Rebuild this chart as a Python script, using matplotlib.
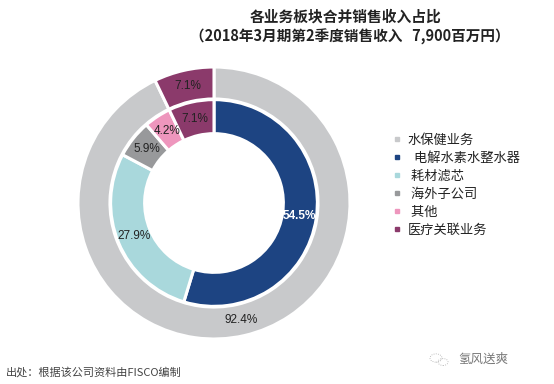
import matplotlib
matplotlib.use('Agg')
import numpy as np
import matplotlib.pyplot as plt
from matplotlib.lines import Line2D
from matplotlib.patches import Circle

plt.rcParams['font.family'] = ['Noto Sans CJK SC', 'DejaVu Sans']

outer_values = [92.4, 7.1]
outer_colors = ['#c8c9cb', '#8b3a6b']
inner_values = [54.5, 27.9, 5.9, 4.2, 7.1]
inner_colors = ['#1d4482', '#a9d8dc', '#98999b', '#ee96bd', '#8b3a6b']
legend_labels = ['水保健业务', '  电解水素水整水器', ' 耗材滤芯', ' 海外子公司', ' 其他', '医疗关联业务']
legend_colors = ['#c8c9cb', '#1d4482', '#a9d8dc', '#98999b', '#ee96bd', '#8b3a6b']

W, H = 554, 384
fig = plt.figure(figsize=(W / 100, H / 100), dpi=100)

# axes sized so that radius 1 is the outer edge of the big ring
cx, cy, r = 214, 203, 136
ax = fig.add_axes([(cx - r) / W, 1 - (cy + r) / H, 2 * r / W, 2 * r / H])

def ring(values, colors, radius, width):
    wedges, _ = ax.pie(values, colors=colors, radius=radius, startangle=90, counterclock=False,
                       wedgeprops=dict(width=width, edgecolor='white', linewidth=2.2), frame=False)
    for w, v in zip(wedges, values):
        a = np.deg2rad((w.theta1 + w.theta2) / 2)
        d = radius - width / 2
        # the label on the dark blue slice is white
        dark = w.get_facecolor()[2] > 0.45 and w.get_facecolor()[0] < 0.2
        ax.text(d * np.cos(a), d * np.sin(a), f'{v}%', ha='center', va='center', fontsize=8.5,
                color='white' if dark else '#222222', fontweight='bold' if dark else 'normal',
                family='Liberation Sans')

ring(outer_values, outer_colors, 1.0, 0.235)
ring(inner_values, inner_colors, 0.76, 0.25)
ax.set_xlim(-1, 1)
ax.set_ylim(-1, 1)

fig.text(346 / W, 1 - 17 / H, '各业务板块合并销售收入占比', ha='center', va='center',
         fontsize=10.6, fontweight='bold', color='#222222')
fig.text(350 / W, 1 - 37 / H, '（2018年3月期第2季度销售收入   7,900百万円）', ha='center', va='center',
         fontsize=10.5, fontweight='bold', color='#222222')

handles = [Line2D([], [], linestyle='none', marker='s', markersize=3.5, color=c) for c in legend_colors]
fig.legend(handles, legend_labels, loc='center left', bbox_to_anchor=(384 / W, 1 - 185 / H), frameon=False,
           fontsize=9.5, labelspacing=0.38, handletextpad=0.3, handlelength=1.0, borderpad=0, labelcolor='#222222')

fig.text(6 / W, 1 - 372 / H, '出处：根据该公司资料由FISCO编制', ha='left', va='center', fontsize=8,
         color='#444444', family=['Noto Sans CJK SC', 'Liberation Serif'])

# watermark in the corner
fig.text(458 / W, 1 - 359 / H, '氢风送爽', ha='left', va='center', fontsize=9, color='#777777')
for x0, y0, rad in [(436, 358, 6), (443, 362, 5)]:
    fig.add_artist(Circle((x0 / W, 1 - y0 / H), rad / W, transform=fig.transFigure, fill=False,
                          edgecolor='#aaaaaa', linewidth=0.6, linestyle=':'))

fig.savefig('out.png', dpi=100)
